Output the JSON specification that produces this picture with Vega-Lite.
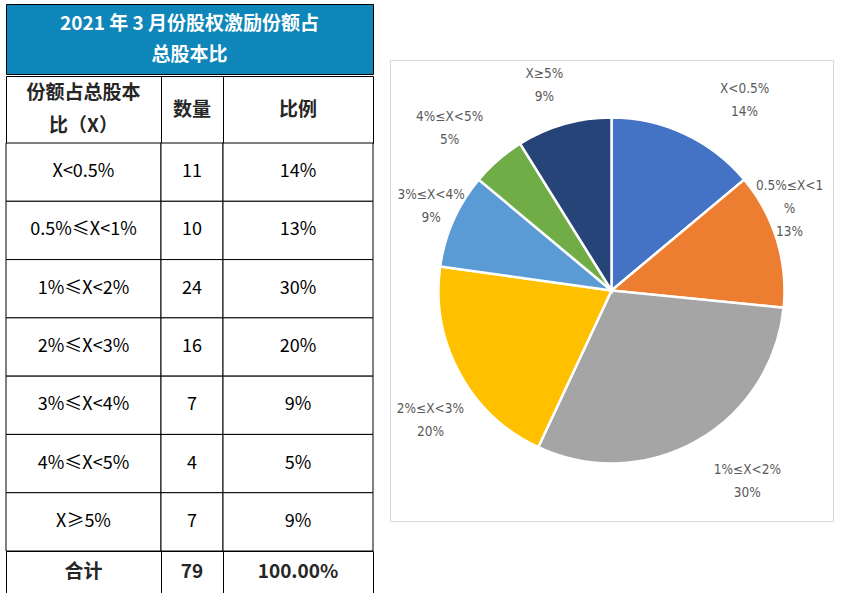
{
  "$schema": "https://vega.github.io/schema/vega-lite/v6.json",
  "padding": {"left": 5, "top": 3, "right": 24, "bottom": 3},
  "background": "white",
  "spacing": 15,
  "config": {
    "view": {"stroke": null},
    "text": {"font": "Noto Sans CJK SC", "fontSize": 18, "baseline": "middle", "align": "center", "lineBreak": "\n", "color": "#000000"}
  },
  "datasets": {
    "rows": [
      {"idx": 1, "cat": "X<0.5%", "n": 11, "pct": 0.14, "plabel": "X<0.5%\n14%"},
      {"idx": 2, "cat": "0.5%≤X<1%", "n": 10, "pct": 0.13, "plabel": "0.5%≤X<1\n%\n13%"},
      {"idx": 3, "cat": "1%≤X<2%", "n": 24, "pct": 0.30, "plabel": "1%≤X<2%\n30%"},
      {"idx": 4, "cat": "2%≤X<3%", "n": 16, "pct": 0.20, "plabel": "2%≤X<3%\n20%"},
      {"idx": 5, "cat": "3%≤X<4%", "n": 7, "pct": 0.09, "plabel": "3%≤X<4%\n9%"},
      {"idx": 6, "cat": "4%≤X<5%", "n": 4, "pct": 0.05, "plabel": "4%≤X<5%\n5%"},
      {"idx": 7, "cat": "X≥5%", "n": 7, "pct": 0.09, "plabel": "X≥5%\n9%"}
    ]
  },
  "hconcat": [
    {
      "spacing": 0,
      "vconcat": [
        {
          "width": 367, "height": 70,
          "view": {"fill": "#0F86BA", "stroke": "#000000"},
          "data": {"values": [{"t": "2021 年 3 月份股权激励份额占\n总股本比"}]},
          "mark": {"type": "text", "color": "white", "fontSize": 19, "fontWeight": "bold", "lineHeight": 31, "dy": -15.5},
          "encoding": {"text": {"field": "t"}}
        },
        {
          "columns": 3,
          "spacing": 0,
          "bounds": "flush",
          "concat": [
            {
              "width": 155, "height": 67, "view": {"stroke": "#000000"},
              "data": {"values": [{"t": "份额占总股本\n比（X）"}]},
              "mark": {"type": "text", "fontSize": 19, "fontWeight": "bold", "lineHeight": 33, "dy": -16.5, "color": "#262626"},
              "encoding": {"text": {"field": "t"}}
            },
            {
              "width": 62, "height": 67, "view": {"stroke": "#000000"},
              "data": {"values": [{"t": "数量"}]},
              "mark": {"type": "text", "fontSize": 19, "fontWeight": "bold", "color": "#262626"},
              "encoding": {"text": {"field": "t"}}
            },
            {
              "width": 150, "height": 67, "view": {"stroke": "#000000"},
              "data": {"values": [{"t": "比例"}]},
              "mark": {"type": "text", "fontSize": 19, "fontWeight": "bold", "color": "#262626"},
              "encoding": {"text": {"field": "t"}}
            },
            {
              "width": 155, "height": 408,
              "data": {"name": "rows"},
              "encoding": {"y": {"field": "cat", "type": "nominal", "sort": null, "axis": null, "scale": {"paddingInner": 0, "paddingOuter": 0}}},
              "layer": [
                {"mark": {"type": "rect", "fill": "white", "stroke": "#000000", "strokeWidth": 1}},
                {"mark": {"type": "text"}, "encoding": {"text": {"field": "cat"}}}
              ]
            },
            {
              "width": 62, "height": 408,
              "data": {"name": "rows"},
              "encoding": {"y": {"field": "cat", "type": "nominal", "sort": null, "axis": null, "scale": {"paddingInner": 0, "paddingOuter": 0}}},
              "layer": [
                {"mark": {"type": "rect", "fill": "white", "stroke": "#000000", "strokeWidth": 1}},
                {"mark": {"type": "text"}, "encoding": {"text": {"field": "n", "type": "quantitative"}}}
              ]
            },
            {
              "width": 150, "height": 408,
              "data": {"name": "rows"},
              "encoding": {"y": {"field": "cat", "type": "nominal", "sort": null, "axis": null, "scale": {"paddingInner": 0, "paddingOuter": 0}}},
              "layer": [
                {"mark": {"type": "rect", "fill": "white", "stroke": "#000000", "strokeWidth": 1}},
                {"mark": {"type": "text"}, "encoding": {"text": {"field": "pct", "type": "quantitative", "format": ".0%"}}}
              ]
            },
            {
              "width": 155, "height": 42, "view": {"stroke": "#000000"},
              "data": {"values": [{"t": "合计"}]},
              "mark": {"type": "text", "fontSize": 19, "fontWeight": "bold", "color": "#262626"},
              "encoding": {"text": {"field": "t"}}
            },
            {
              "width": 62, "height": 42, "view": {"stroke": "#000000"},
              "data": {"values": [{"t": "79"}]},
              "mark": {"type": "text", "fontSize": 19, "fontWeight": "bold", "color": "#262626"},
              "encoding": {"text": {"field": "t"}}
            },
            {
              "width": 150, "height": 42, "view": {"stroke": "#000000"},
              "data": {"values": [{"t": "100.00%"}]},
              "mark": {"type": "text", "fontSize": 19, "fontWeight": "bold", "color": "#262626"},
              "encoding": {"text": {"field": "t"}}
            }
          ]
        }
      ]
    },
    {
      "spacing": 54,
      "vconcat": [
        {
          "width": 443, "height": 1,
          "data": {"values": []},
          "mark": "rect"
        },
        {
          "width": 443, "height": 461,
          "view": {"stroke": "#D9D9D9"},
          "data": {"name": "rows"},
          "transform": [
            {"stack": "n", "groupby": [], "sort": [{"field": "idx", "order": "ascending"}], "as": ["s0", "s1"]}
          ],
          "layer": [
            {
              "mark": {"type": "arc", "outerRadius": 173, "stroke": "white", "strokeWidth": 2.5},
              "encoding": {
                "theta": {"field": "s0", "type": "quantitative", "scale": {"domain": [0, 79]}},
                "theta2": {"field": "s1"},
                "color": {
                  "field": "cat", "type": "nominal", "sort": null, "legend": null,
                  "scale": {
                    "domain": ["X<0.5%", "0.5%≤X<1%", "1%≤X<2%", "2%≤X<3%", "3%≤X<4%", "4%≤X<5%", "X≥5%"],
                    "range": ["#4472C4", "#ED7D31", "#A5A5A5", "#FFC000", "#5B9BD5", "#70AD47", "#264478"]
                  }
                }
              }
            },
            {
              "transform": [{"filter": "datum.idx == 1"}],
              "mark": {"type": "text", "radius": 232, "thetaOffset": 0.611, "font": "DejaVu Sans Condensed, Liberation Sans", "fontSize": 13.5, "lineHeight": 23, "dy": -11.5, "color": "#595959"},
              "encoding": {"theta": {"field": "s0", "type": "quantitative", "scale": {"domain": [0, 79]}}, "text": {"field": "plabel"}}
            },
            {
              "transform": [{"filter": "datum.idx == 2"}],
              "mark": {"type": "text", "radius": 196, "thetaOffset": 0.265, "font": "DejaVu Sans Condensed, Liberation Sans", "fontSize": 13.5, "lineHeight": 23, "dy": -23, "color": "#595959"},
              "encoding": {"theta": {"field": "s0", "type": "quantitative", "scale": {"domain": [0, 79]}}, "text": {"field": "plabel"}}
            },
            {
              "transform": [{"filter": "datum.idx == 3"}],
              "mark": {"type": "text", "radius": 234, "thetaOffset": 0.852, "font": "DejaVu Sans Condensed, Liberation Sans", "fontSize": 13.5, "lineHeight": 23, "dy": -11.5, "color": "#595959"},
              "encoding": {"theta": {"field": "s0", "type": "quantitative", "scale": {"domain": [0, 79]}}, "text": {"field": "plabel"}}
            },
            {
              "transform": [{"filter": "datum.idx == 4"}],
              "mark": {"type": "text", "radius": 223, "thetaOffset": 0.51, "font": "DejaVu Sans Condensed, Liberation Sans", "fontSize": 13.5, "lineHeight": 23, "dy": -11.5, "color": "#595959"},
              "encoding": {"theta": {"field": "s0", "type": "quantitative", "scale": {"domain": [0, 79]}}, "text": {"field": "plabel"}}
            },
            {
              "transform": [{"filter": "datum.idx == 5"}],
              "mark": {"type": "text", "radius": 199, "thetaOffset": 0.297, "font": "DejaVu Sans Condensed, Liberation Sans", "fontSize": 13.5, "lineHeight": 23, "dy": -11.5, "color": "#595959"},
              "encoding": {"theta": {"field": "s0", "type": "quantitative", "scale": {"domain": [0, 79]}}, "text": {"field": "plabel"}}
            },
            {
              "transform": [{"filter": "datum.idx == 6"}],
              "mark": {"type": "text", "radius": 229, "thetaOffset": 0.0895, "font": "DejaVu Sans Condensed, Liberation Sans", "fontSize": 13.5, "lineHeight": 23, "dy": -11.5, "color": "#595959"},
              "encoding": {"theta": {"field": "s0", "type": "quantitative", "scale": {"domain": [0, 79]}}, "text": {"field": "plabel"}}
            },
            {
              "transform": [{"filter": "datum.idx == 7"}],
              "mark": {"type": "text", "radius": 216, "thetaOffset": 0.241, "font": "DejaVu Sans Condensed, Liberation Sans", "fontSize": 13.5, "lineHeight": 23, "dy": -11.5, "color": "#595959"},
              "encoding": {"theta": {"field": "s0", "type": "quantitative", "scale": {"domain": [0, 79]}}, "text": {"field": "plabel"}}
            }
          ]
        }
      ]
    }
  ]
}
